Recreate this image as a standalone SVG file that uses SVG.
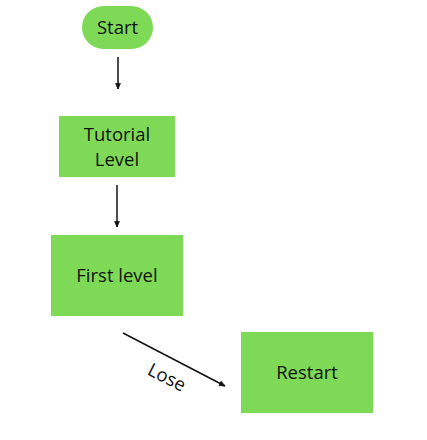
<svg xmlns="http://www.w3.org/2000/svg" width="427" height="440" viewBox="0 0 427 440">
<style>
.n{fill:#7ED957}
.t{font-family:"Open Sans","Noto Sans",sans-serif;font-size:18.5px;fill:#111;text-anchor:middle}
.c{stroke:#111;stroke-width:1.5;fill:none}
</style>
<defs>
<marker id="a" viewBox="0 0 10 10" refX="9" refY="5" markerWidth="7" markerHeight="7" orient="auto" markerUnits="userSpaceOnUse">
<path d="M1,1.5 L9,5 L1,8.5 Z" fill="#111" stroke="#111" stroke-width="1"/>
</marker>
</defs>
<rect width="427" height="440" fill="#fff"/>
<g id="start"><rect class="n" x="82" y="6" width="71" height="43" rx="21.5"/><text class="t" x="117.5" y="34">Start</text></g>
<g id="tutorial"><rect class="n" x="59" y="116" width="116" height="61"/><text class="t" x="117" y="141">Tutorial</text><text class="t" x="117" y="166">Level</text></g>
<g id="first"><rect class="n" x="51" y="235" width="132" height="81"/><text class="t" x="117" y="282">First level</text></g>
<g id="restart"><rect class="n" x="241" y="332" width="132" height="81"/><text class="t" x="307" y="379">Restart</text></g>
<g id="connectors">
<line class="c" x1="118" y1="57" x2="118" y2="89" marker-end="url(#a)"/>
<line class="c" x1="117" y1="185" x2="117" y2="227" marker-end="url(#a)"/>
<line class="c" x1="123" y1="333" x2="225" y2="386" marker-end="url(#a)"/>
<text class="t" transform="translate(164,383) rotate(27)">Lose</text>
</g>
</svg>
